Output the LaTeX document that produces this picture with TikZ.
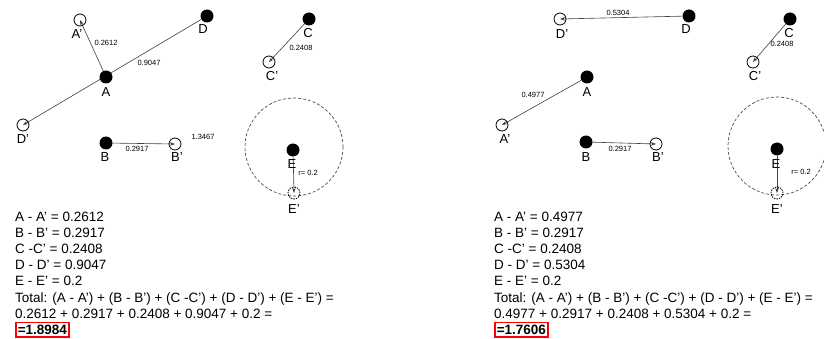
\documentclass[tikz,border=0pt]{standalone}
\usepackage{fontspec}
\setmainfont{Liberation Sans}
\usetikzlibrary{arrows.meta,backgrounds}
\tikzset{
  full/.style={circle,fill=black,minimum size=13pt,inner sep=0pt},
  hollow/.style={circle,draw=black,line width=0.8pt,minimum size=12pt,inner sep=0pt},
  hollowd/.style={hollow,dashed,dash pattern=on 1.5pt off 1pt},
  lab/.style={font=\fontsize{13}{13}\selectfont,inner sep=0pt},
  val/.style={font=\fontsize{7.5}{7.5}\selectfont,inner sep=0pt},
  arr/.style={draw=black!75,line width=0.6pt,-{Stealth[length=5pt,width=3.5pt]}},
  ring/.style={draw=black!70,dashed,line width=0.7pt,dash pattern=on 3pt off 2pt},
  txt/.style={font=\fontsize{13.5}{13.5}\selectfont,anchor=base west,inner sep=0pt},
  res/.style={font=\bfseries\fontsize{13.5}{13.5}\selectfont,anchor=base west,draw=red,line width=1.5pt,inner xsep=2pt,inner ysep=2.5pt}
}
\begin{document}
\begin{tikzpicture}[x=1pt,y=-1pt]
\useasboundingbox (0,0) rectangle (824,339);
% ---------- left panel ----------
\node[hollow] (LAp) at (80,20) {};
\node[hollow] (LDp) at (23,125) {};
\node[hollow] (LBp) at (175,144) {};
\node[hollow] (LCp) at (269,62) {};
\node[full] (LA) at (106,77) {};
\node[full] (LD) at (207,16) {};
\node[full] (LB) at (106,143) {};
\node[full] (LC) at (309,19) {};
\node[full] (LE) at (293,150) {};
\node[hollowd] (LEp) at (294,193) {};
\coordinate (LO) at (294,147);
\begin{scope}[on background layer]
\draw[ring] (LO) circle (49pt);
\draw[arr] (LA) -- (LAp.center);
\draw[arr] (LD) -- (LDp.center);
\draw[arr] (LB) -- (LBp.center);
\draw[arr] (LC) -- (LCp.center);
\draw[arr] (LE) -- (LEp.center);
\end{scope}
\node[lab] (lLA) at (106,92) {A};
\node[lab] (lLAp) at (77,34) {A'};
\node[lab] (lLD) at (203,29) {D};
\node[lab] (lLDp) at (23,139) {D'};
\node[lab] (lLB) at (105,157) {B};
\node[lab] (lLBp) at (177,157) {B'};
\node[lab] (lLC) at (308,33) {C};
\node[lab] (lLCp) at (272,76) {C'};
\node[lab] (lLE) at (292,164) {E};
\node[lab] (lLEp) at (294,209) {E'};
\node[val] (vLA) at (106,43) {0.2612};
\node[val] (vLD) at (149,63) {0.9047};
\node[val] (vLB) at (137,149) {0.2917};
\node[val] (vLC) at (301,48) {0.2408};
\node[val] (vLS) at (203,137) {1.3467};
\node[val] (vLE) at (308,173) {r= 0.2};
% left text
\node[txt] (tL1) at (15,221.5) {A - A' = 0.2612};
\node[txt] (tL2) at (15,237.6) {B - B' = 0.2917};
\node[txt] (tL3) at (15,253.7) {C -C' = 0.2408};
\node[txt] (tL4) at (15,269.8) {D - D' = 0.9047};
\node[txt] (tL5) at (15,285.9) {E - E' = 0.2};
\node[txt] (tL6) at (15,302) {Total: (A - A') + (B - B') + (C -C') + (D - D') + (E - E') =};
\node[txt] (tL7) at (15,318.1) {0.2612 + 0.2917 + 0.2408 + 0.9047 + 0.2 =};
\node[res] (tL8) at (15,334.4) {=1.8984};
% ---------- right panel ----------
\node[hollow] (RDp) at (560,19) {};
\node[hollow] (RAp) at (502,125) {};
\node[hollow] (RBp) at (656,144) {};
\node[hollow] (RCp) at (753,62) {};
\node[full] (RD) at (689,16) {};
\node[full] (RA) at (587,77) {};
\node[full] (RB) at (586,142) {};
\node[full] (RC) at (790,19) {};
\node[full] (RE) at (777,149) {};
\node[hollowd] (REp) at (777,193) {};
\coordinate (RO) at (777,146);
\begin{scope}[on background layer]
\draw[ring] (RO) circle (49pt);
\draw[arr] (RA) -- (RAp.center);
\draw[arr] (RD) -- (RDp.center);
\draw[arr] (RB) -- (RBp.center);
\draw[arr] (RC) -- (RCp.center);
\draw[arr] (RE) -- (REp.center);
\end{scope}
\node[lab] (lRA) at (587,92) {A};
\node[lab] (lRAp) at (505,139) {A'};
\node[lab] (lRD) at (686,29) {D};
\node[lab] (lRDp) at (562,34) {D'};
\node[lab] (lRB) at (586,157) {B};
\node[lab] (lRBp) at (658,157) {B'};
\node[lab] (lRC) at (789,33) {C};
\node[lab] (lRCp) at (755,76) {C'};
\node[lab] (lRE) at (776,164) {E};
\node[lab] (lREp) at (777,209) {E'};
\node[val] (vRD) at (618,13) {0.5304};
\node[val] (vRA) at (533,95) {0.4977};
\node[val] (vRB) at (620,149) {0.2917};
\node[val] (vRC) at (782,44) {0.2408};
\node[val] (vRE) at (801,172) {r= 0.2};
% right text
\node[txt] (tR1) at (494,221.5) {A - A' = 0.4977};
\node[txt] (tR2) at (494,237.6) {B - B' = 0.2917};
\node[txt] (tR3) at (494,253.7) {C -C' = 0.2408};
\node[txt] (tR4) at (494,269.8) {D - D' = 0.5304};
\node[txt] (tR5) at (494,285.9) {E - E' = 0.2};
\node[txt] (tR6) at (494,302) {Total: (A - A') + (B - B') + (C -C') + (D - D') + (E - E') =};
\node[txt] (tR7) at (494,318.1) {0.4977 + 0.2917 + 0.2408 + 0.5304 + 0.2 =};
\node[res] (tR8) at (494,334.4) {=1.7606};
\end{tikzpicture}
\end{document}
